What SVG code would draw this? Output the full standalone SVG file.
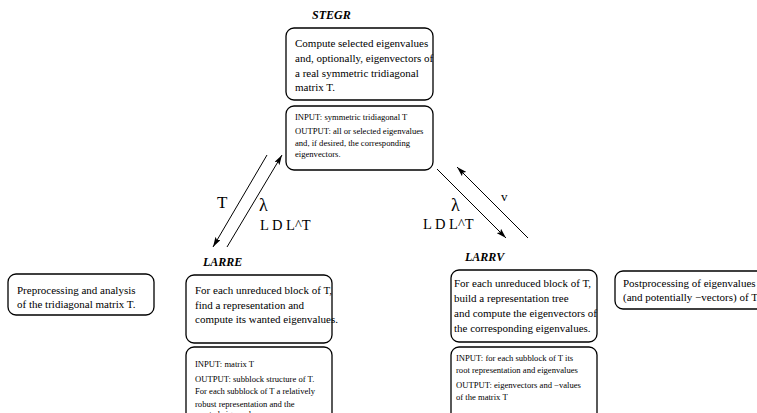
<svg xmlns="http://www.w3.org/2000/svg" width="757" height="413" viewBox="0 0 757 413">
<style>
.box{fill:#fff;stroke:#000;stroke-width:1.3}
.t{font-family:"Liberation Serif","Times New Roman",serif;font-size:11px;fill:#000}
.s{font-family:"Liberation Serif","Times New Roman",serif;font-size:8.6px;fill:#000}
.h{font-family:"Liberation Serif","Times New Roman",serif;font-size:12px;font-weight:bold;font-style:italic;fill:#000}
.l{font-family:"Liberation Serif","Times New Roman",serif;font-size:14.5px;fill:#000}
.g{font-family:"Liberation Serif","Times New Roman",serif;font-size:18px;fill:#000}
.c{stroke:#000;stroke-width:1;fill:none;marker-end:url(#ah)}
</style>
<defs>
<marker id="ah" viewBox="0 0 10 6" refX="10" refY="3" markerWidth="10" markerHeight="6" markerUnits="userSpaceOnUse" orient="auto">
<path d="M0,0 L10,3 L0,6 L2,3 Z" fill="#000"/>
</marker>
</defs>
<rect width="757" height="413" fill="#fff"/>

<g id="stegr">
<text class="h" x="312" y="19">STEGR</text>
<rect class="box" x="286" y="28" width="147" height="72" rx="8"/>
<text class="t" x="295" y="47">Compute selected eigenvalues</text>
<text class="t" x="295" y="62">and, optionally, eigenvectors of</text>
<text class="t" x="295" y="76.5">a real symmetric tridiagonal</text>
<text class="t" x="295" y="91">matrix T.</text>
<rect class="box" x="286" y="106" width="147" height="64" rx="8"/>
<text class="s" x="295" y="120">INPUT: symmetric tridiagonal T</text>
<text class="s" x="295" y="134">OUTPUT: all or selected eigenvalues</text>
<text class="s" x="295" y="145.5">and, if desired, the corresponding</text>
<text class="s" x="295" y="157">eigenvectors.</text>
</g>

<g id="pre">
<rect class="box" x="8" y="274" width="146" height="41" rx="8"/>
<text class="t" x="17" y="294">Preprocessing and analysis</text>
<text class="t" x="17" y="308">of the tridiagonal matrix T.</text>
</g>

<g id="larre">
<text class="h" x="203" y="266">LARRE</text>
<rect class="box" x="186" y="275" width="146" height="68" rx="8"/>
<text class="t" x="195" y="294">For each unreduced block of T,</text>
<text class="t" x="195" y="308.5">find a representation and</text>
<text class="t" x="195" y="323">compute its wanted eigenvalues.</text>
<rect class="box" x="186" y="347" width="146" height="80" rx="8"/>
<text class="s" x="195" y="366.5">INPUT: matrix T</text>
<text class="s" x="195" y="381.5">OUTPUT: subblock structure of T.</text>
<text class="s" x="195" y="394">For each subblock of T a relatively</text>
<text class="s" x="195" y="406.5">robust representation and the</text>
<text class="s" x="195" y="417">wanted eigenvalues</text>
</g>

<g id="larrv">
<text class="h" x="465" y="261">LARRV</text>
<rect class="box" x="451" y="270" width="146" height="72" rx="8"/>
<text class="t" x="454" y="287">For each unreduced block of T,</text>
<text class="t" x="454" y="302">build a representation tree</text>
<text class="t" x="454" y="317">and compute the eigenvectors of</text>
<text class="t" x="454" y="332">the corresponding eigenvalues.</text>
<rect class="box" x="451" y="347" width="146" height="80" rx="8"/>
<text class="s" x="456" y="360.5">INPUT: for each subblock of T its</text>
<text class="s" x="456" y="373">root representation and eigenvalues</text>
<text class="s" x="456" y="388">OUTPUT: eigenvectors and −values</text>
<text class="s" x="456" y="400">of the matrix T</text>
</g>

<g id="post">
<rect class="box" x="615" y="271" width="160" height="38" rx="8"/>
<text class="t" x="623" y="287">Postprocessing of eigenvalues</text>
<text class="t" x="623" y="301">(and potentially −vectors) of T</text>
</g>

<g id="connectors">
<line class="c" x1="267" y1="155" x2="213" y2="247"/>
<line class="c" x1="227" y1="247" x2="282" y2="155"/>
<line class="c" x1="437" y1="169" x2="506" y2="238"/>
<line class="c" x1="528" y1="238" x2="457" y2="167"/>
<text class="l" x="217" y="208" style="font-size:17px">T</text>
<text class="g" x="259" y="211">λ</text>
<text class="l" x="260" y="230">L D L^T</text>
<text class="g" x="451" y="211">λ</text>
<text class="l" x="423" y="229">L D L^T</text>
<text class="l" x="501" y="201" style="font-size:13px">v</text>
</g>
</svg>
